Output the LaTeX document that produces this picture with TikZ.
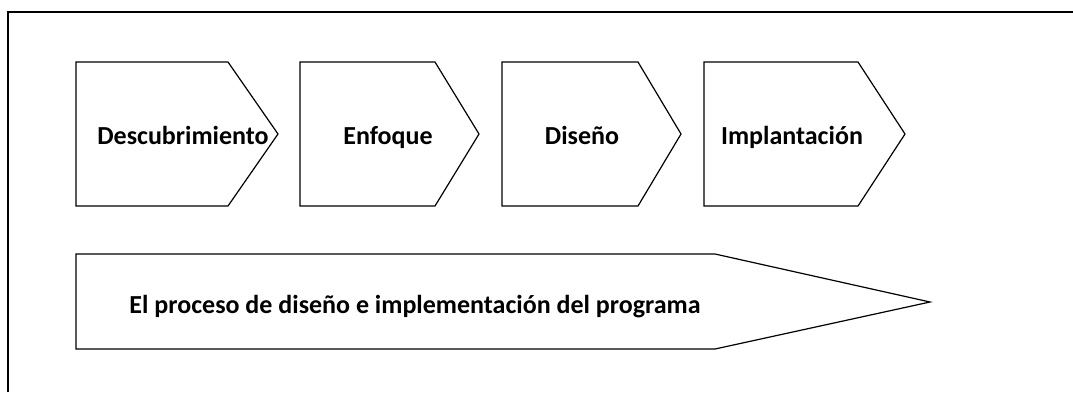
\documentclass[tikz,border=0pt]{standalone}
\usepackage{fontspec}
\setmainfont{Carlito}
\begin{document}
\begin{tikzpicture}[x=1pt,y=-1pt,
	fase/.style={draw,line width=1.2pt,line join=miter},
	etiqueta/.style={anchor=base,inner sep=0pt,
		font=\fontsize{26}{31}\selectfont\bfseries}]
		\useasboundingbox (0,0) rectangle (1073,392);

		% Marco
		\draw[line width=1.8pt] (8,392) -- (8,12) -- (1073,12);

		% Fases (pentágonos)
		\draw[fase] (76,62) -- (228,62) -- (278,134) -- (228,206) -- (76,206) -- cycle;
		\draw[fase] (300,62) -- (435,62) -- (479,134) -- (435,206) -- (300,206) -- cycle;
		\draw[fase] (502,62) -- (638,62) -- (681,134) -- (638,206) -- (502,206) -- cycle;
		\draw[fase] (704,62) -- (858,62) -- (905,134) -- (858,206) -- (704,206) -- cycle;

		\node[etiqueta] (descubrimiento) at (183,144) {Descubrimiento};
		\node[etiqueta] (enfoque) at (388,144) {Enfoque};
		\node[etiqueta] (diseno) at (582,144) {Diseño};
		\node[etiqueta] (implantacion) at (792,144) {Implantación};

		% Flecha del proceso
		\draw[fase] (76,254) -- (715,254) -- (930,302) -- (715,349) -- (76,349) -- cycle;
		\node[etiqueta] (proceso) at (415,313)
			{El proceso de diseño e implementación del programa};
	\end{tikzpicture}
\end{document}
